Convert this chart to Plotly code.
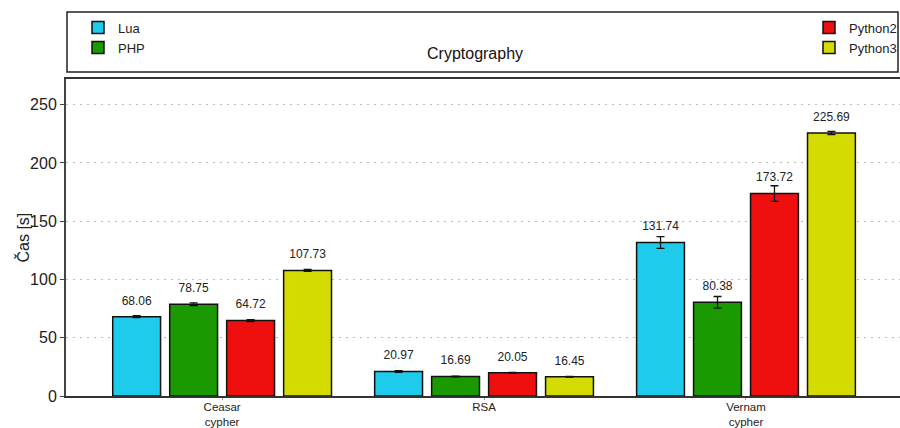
import plotly.graph_objects as go

categories = ["Ceasar<br>cypher", "RSA", "Vernam<br>cypher"]
series_names = ["Lua", "PHP", "Python2", "Python3"]
lua = [68.06, 20.97, 131.74]
php = [78.75, 16.69, 80.38]
python2 = [64.72, 20.05, 173.72]
python3 = [107.73, 16.45, 225.69]
lua_err = [0.8, 0.7, 5.0]
php_err = [1.1, 0.3, 5.0]
python2_err = [0.8, 0.3, 6.7]
python3_err = [0.8, 0.3, 1.3]
yticks = [0, 50, 100, 150, 200, 250]
y_title = "Čas [s]"
chart_title = "Cryptography"

colors = ["#1ECBEB", "#1A9A00", "#EF0F0F", "#D4DB00"]
values = [lua, php, python2, python3]
errors = [lua_err, php_err, python2_err, python3_err]
legends = ["legend", "legend", "legend2", "legend2"]

fig = go.Figure()
for name, vals, errs, col, lg in zip(series_names, values, errors, colors, legends):
    fig.add_trace(go.Bar(
        name=name, x=categories, y=vals,
        marker=dict(color=col, line=dict(color="#111111", width=1.5)),
        error_y=dict(type="data", array=errs, visible=True, color="#111111",
                     thickness=1.3, width=4),
        legend=lg, offsetgroup=name,
    ))
for name, vals in zip(series_names, values):
    fig.add_trace(go.Scatter(
        name=name + " labels", x=categories, y=vals, mode="markers+text",
        marker=dict(size=13, color="rgba(0,0,0,0)"),
        text=[f"{v:.2f}" for v in vals], textposition="top center",
        textfont=dict(size=12, color="#222222"),
        showlegend=False, hoverinfo="skip", cliponaxis=False, offsetgroup=name,
    ))

H = 317.0
W = 834.0
def py(p):
    return (396 - p) / H
def px(p):
    return (p - 66) / W

fig.update_layout(
    width=900, height=428,
    margin=dict(l=66, r=0, t=79, b=32, autoexpand=False),
    paper_bgcolor="white", plot_bgcolor="white",
    font=dict(family="Liberation Sans, Arial, sans-serif", color="#222222"),
    barmode="group", bargap=0.13, bargroupgap=0.16,
    scattermode="group", scattergap=0.13,
    showlegend=True,
    legend=dict(x=px(78), y=py(12.6), xanchor="left", yanchor="top",
                font=dict(size=13), bgcolor="rgba(0,0,0,0)", tracegroupgap=0),
    legend2=dict(x=px(902), y=py(12.6), xanchor="right", yanchor="top",
                 font=dict(size=13), bgcolor="rgba(0,0,0,0)", tracegroupgap=0),
)
fig.update_xaxes(
    range=[-0.596, 2.588], showline=True, mirror=True, linecolor="#333333", linewidth=2,
    ticks="outside", ticklen=2, tickcolor="#999999", tickfont=dict(size=11.5, color="#222222"),
    ticklabelstandoff=-3, showgrid=False, automargin=False,
)
fig.update_yaxes(
    range=[0, 272], tickvals=yticks, showline=True, linecolor="#444444", linewidth=2,
    ticks="outside", ticklen=4, tickcolor="#444444", tickfont=dict(size=16, color="#222222"),
    showgrid=True, gridcolor="#bbbbbb", griddash="1.5px,5.5px", gridwidth=1, zeroline=False,
    automargin=False,
)
fig.add_annotation(text=y_title, xref="paper", yref="paper", x=px(22), y=0.5,
                   xanchor="center", yanchor="middle", textangle=-90, showarrow=False,
                   font=dict(size=16, color="#222222"))
fig.add_shape(type="rect", xref="paper", yref="paper",
              x0=px(67), x1=px(898), y0=py(72), y1=py(12),
              line=dict(color="#222222", width=1.5), fillcolor="rgba(0,0,0,0)")
fig.add_annotation(text=chart_title, xref="paper", yref="paper",
                   x=px(475), y=py(53), xanchor="center", yanchor="middle", showarrow=False,
                   font=dict(size=16, color="#111111"))

fig.write_html("out.html", config={"displayModeBar": False},
               post_script="document.body.style.margin='0';document.body.style.padding='0';")
